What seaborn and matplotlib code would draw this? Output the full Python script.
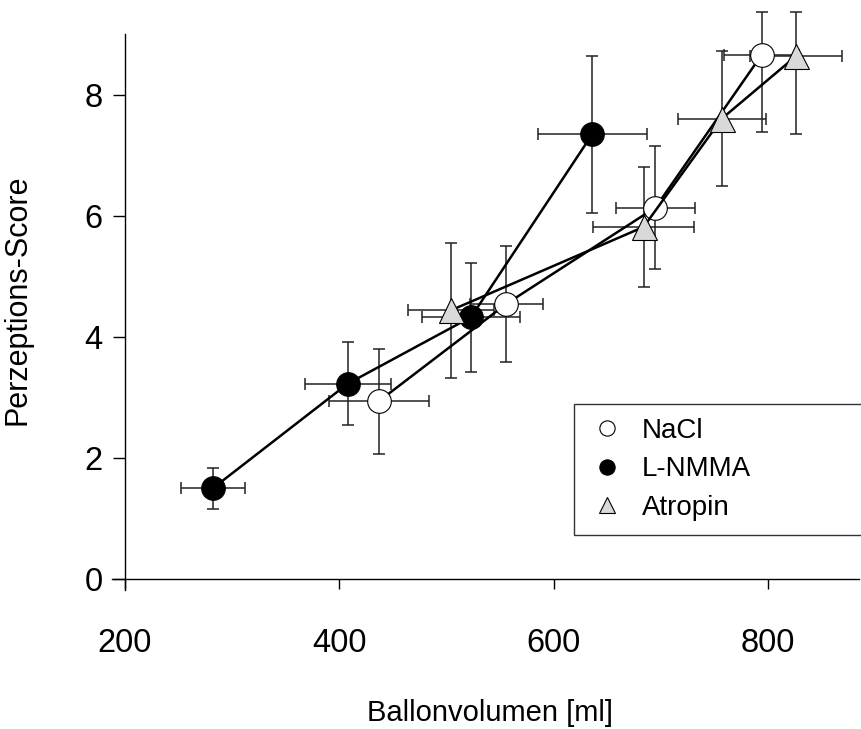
import matplotlib
matplotlib.use("Agg")
import matplotlib.pyplot as plt
from matplotlib.lines import Line2D
import seaborn as sns
import pandas as pd

# values
nacl_x = [437, 556, 695, 794]
nacl_y = [2.94, 4.55, 6.14, 8.66]
nacl_xerr = [47, 34, 37, 35]
nacl_yerr_lo = [0.87, 0.96, 1.01, 1.27]
nacl_yerr_hi = [0.87, 0.96, 1.01, 0.71]

lnmma_x = [282, 408, 523, 636]
lnmma_y = [1.50, 3.23, 4.33, 7.35]
lnmma_xerr = [30, 40, 46, 51]
lnmma_yerr_lo = [0.34, 0.69, 0.90, 1.30]
lnmma_yerr_hi = [0.34, 0.69, 0.90, 1.30]

atropin_x = [504, 684, 757, 826]
atropin_y = [4.44, 5.82, 7.61, 8.64]
atropin_xerr = [40, 47, 41, 43]
atropin_yerr_lo = [1.12, 0.99, 1.12, 1.28]
atropin_yerr_hi = [1.12, 0.99, 1.12, 0.73]

x_ticks = [200, 400, 600, 800]
y_ticks = [0, 2, 4, 6, 8]

sns.set_style("white")
plt.rcParams['font.family'] = ['Liberation Sans', 'DejaVu Sans']
plt.rcParams['text.color'] = 'black'
plt.rcParams['axes.labelcolor'] = 'black'
plt.rcParams['xtick.color'] = 'black'
plt.rcParams['ytick.color'] = 'black'

fig = plt.figure(figsize=(8.62, 7.29), dpi=100)
ax = fig.add_axes([0.130, 0.1907, 0.8666, 0.762])

series = [
    ("NaCl", nacl_x, nacl_y, nacl_xerr, nacl_yerr_lo, nacl_yerr_hi, "o", "white"),
    ("L-NMMA", lnmma_x, lnmma_y, lnmma_xerr, lnmma_yerr_lo, lnmma_yerr_hi, "o", "black"),
    ("Atropin", atropin_x, atropin_y, atropin_xerr, atropin_yerr_lo, atropin_yerr_hi, "^", "#d9d9d9"),
]

for name, xs, ys, xe, ylo, yhi, mk, fc in series:
    eb = ax.errorbar(xs, ys, xerr=xe, yerr=[ylo, yhi], fmt="none", ecolor="#222222",
                     elinewidth=1.1, capsize=4, capthick=1.1, zorder=1)
    for art in eb.get_children():
        art.set_clip_on(False)

for name, xs, ys, xe, ylo, yhi, mk, fc in series:
    df = pd.DataFrame({"x": xs, "y": ys})
    sns.lineplot(data=df, x="x", y="y", ax=ax, color="black", linewidth=1.8,
                 marker=mk, markersize=17 if mk == "o" else 18, markerfacecolor=fc,
                 markeredgecolor="black", markeredgewidth=0.8, sort=False, zorder=3,
                 clip_on=False)

ax.set_xlim(188, 885)
ax.set_ylim(-0.18, 9.0)
ax.spines['left'].set_position(('data', 200))
ax.spines['bottom'].set_position(('data', 0))
ax.spines['right'].set_visible(False)
ax.spines['top'].set_visible(False)
for s in ('left', 'bottom'):
    ax.spines[s].set_color('black')
    ax.spines[s].set_linewidth(1.0)

ax.set_xticks(x_ticks)
ax.set_yticks(y_ticks)
ax.tick_params(axis='x', direction='out', length=7, width=1,
               labelsize=23.5, pad=28, bottom=True)
ax.tick_params(axis='y', direction='out', length=9, width=1,
               labelsize=23.5, pad=7, left=True)

ax.set_xlabel("Ballonvolumen [ml]", fontsize=21)
ax.set_ylabel("Perzeptions-Score", fontsize=22)
ax.xaxis.set_label_coords(0.506, -0.196)
ax.yaxis.set_label_coords(-0.106, 0.522)

handles = [
    Line2D([], [], linestyle="none", marker="o", markersize=11, markerfacecolor="white",
           markeredgecolor="black", markeredgewidth=0.8),
    Line2D([], [], linestyle="none", marker="o", markersize=11, markerfacecolor="black",
           markeredgecolor="black", markeredgewidth=0.8),
    Line2D([], [], linestyle="none", marker="^", markersize=12, markerfacecolor="#d9d9d9",
           markeredgecolor="black", markeredgewidth=0.8),
]
leg = fig.legend(handles, ["NaCl", "L-NMMA", "Atropin"], loc="upper left",
                 bbox_to_anchor=(574 / 862, 1 - 404 / 729, (862 - 574) / 862, 0.0),
                 mode="expand", fontsize=20, frameon=True, fancybox=False,
                 edgecolor="black", borderpad=0.5, labelspacing=0.45,
                 handlelength=1.4, handletextpad=0.55, borderaxespad=0)
leg.get_frame().set_linewidth(1.0)

fig.savefig("out.png", dpi=100)
